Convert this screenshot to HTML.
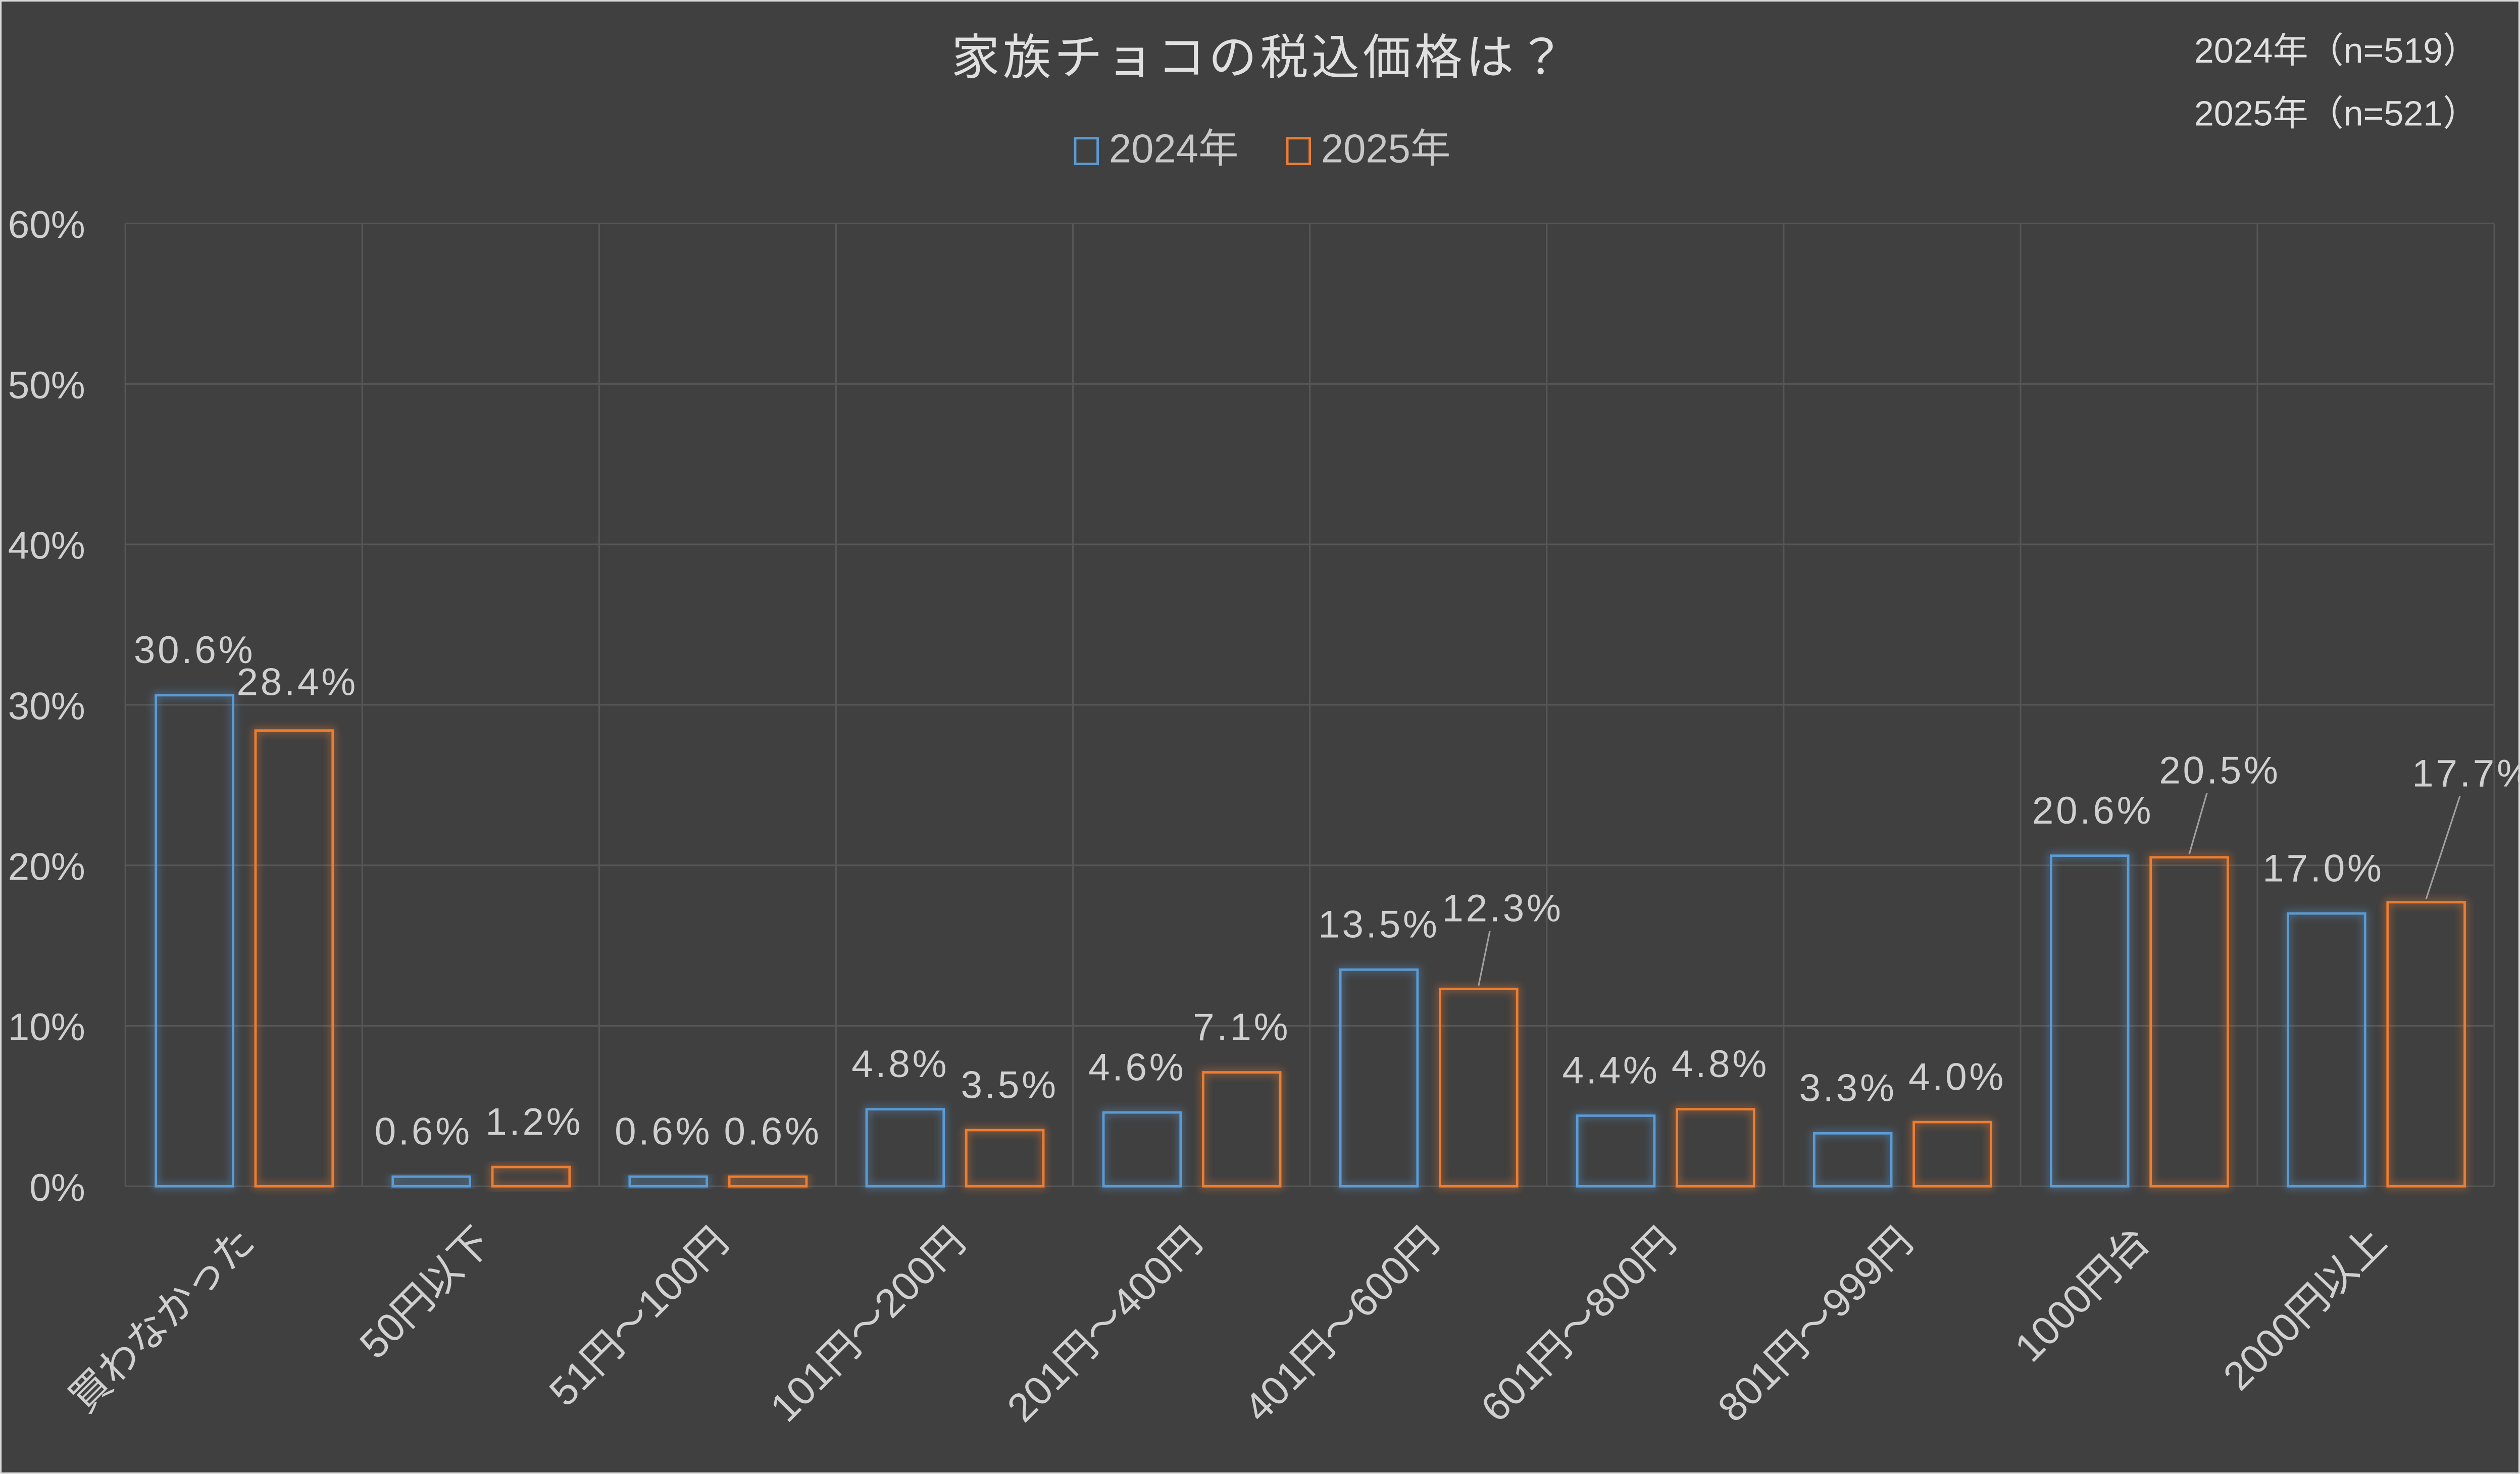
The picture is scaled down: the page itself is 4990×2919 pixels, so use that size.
<!DOCTYPE html>
<html><head><meta charset="utf-8"><style>
html,body{margin:0;padding:0;background:#404040;}
svg{display:block;}
text{font-family:"Liberation Sans","Noto Sans CJK JP",sans-serif;}
</style></head><body>
<svg id="chart" width="4990" height="2919" viewBox="0 0 1568 917" preserveAspectRatio="none" xmlns="http://www.w3.org/2000/svg">
<rect x="0" y="0" width="1568" height="917" fill="#404040" stroke="#d9d9d9" stroke-width="2"/>
<defs>
<filter id="glow" x="-30%" y="-30%" width="160%" height="160%"><feGaussianBlur stdDeviation="2.5"/></filter>
</defs>
<g id="grid"></g>
<g id="bars"></g>
<g id="labels"></g>
<g id="axes"></g>
<text x="784" y="46" text-anchor="middle" font-size="30" fill="#e0e0e0" letter-spacing="2">家族チョコの税込価格は？</text>
<g>
<rect x="669" y="86" width="14" height="16" fill="none" stroke="#5b9bd5" stroke-width="1.5"/>
<text x="690" y="101" font-size="25" fill="#c8c8c8">2024年</text>
<rect x="801" y="86" width="14" height="16" fill="none" stroke="#ed7d31" stroke-width="1.5"/>
<text x="822" y="101" font-size="25" fill="#c8c8c8">2025年</text>
</g>
<text x="1542" y="39" text-anchor="end" font-size="22" fill="#e0e0e0">2024年（n=519）</text>
<text x="1542" y="78" text-anchor="end" font-size="22" fill="#e0e0e0">2025年（n=521）</text>
</svg>
<script>
const categories = ["買わなかった","50円以下","51円～100円","101円～200円","201円～400円","401円～600円","601円～800円","801円～999円","1000円台","2000円以上"];
const values2024 = [30.6,0.6,0.6,4.8,4.6,13.5,4.4,3.3,20.6,17.0];
const values2025 = [28.4,1.2,0.6,3.5,7.1,12.3,4.8,4.0,20.5,17.7];
const yTicks = [0,10,20,30,40,50,60];

const NS="http://www.w3.org/2000/svg";
const X0=78, X1=1552, Y0=738, Ytop=139, YMAX=60;
const bw=(X1-X0)/categories.length;
const y=v=>Y0-(v/YMAX)*(Y0-Ytop);
const xc=i=>X0+i*bw;
// manual label nudges (dx, dy) for labels that Excel moved
const nudge={"2025-0":[2,-2],"2025-1":[2,0],"2024-1":[-5,0],"2024-2":[-3,0],"2025-2":[3,0],"2024-3":[-3,0],"2025-3":[3,0],"2024-4":[-3,0],"2025-4":[0,0],"2024-6":[-3,0],"2025-6":[3,0],"2024-7":[-3,0],"2025-7":[3,0],"2025-5":[15,-22],"2025-8":[19,-26],"2024-8":[2,0],"2024-9":[-2,0],"2025-9":[29,-52]};
function mk(tag,attrs,parent){const e=document.createElementNS(NS,tag);for(const k in attrs)e.setAttribute(k,attrs[k]);parent.appendChild(e);return e;}
const grid=document.getElementById('grid'),bars=document.getElementById('bars'),labels=document.getElementById('labels'),axes=document.getElementById('axes');

yTicks.forEach(t=>{
  const l=mk('line',{x1:X0,x2:X1,y1:y(t),y2:y(t),stroke:'#565656','stroke-width':1},grid);
  
  
  const tx=mk('text',{x:53,y:y(t)+9,'text-anchor':'end','font-size':24,fill:'#d0d0d0'},axes);
  tx.textContent=t+'%';
  
  
});
for(let i=0;i<=categories.length;i++){
  const l=mk('line',{x1:xc(i),x2:xc(i),y1:Ytop,y2:Y0,stroke:'#565656','stroke-width':1},grid);
  
  
}
function bar(i,v,off,color,series){
  const x=xc(i)+off, w=48, top=y(v);
  const g=mk('rect',{x:x,y:top,width:w,height:Y0-top,fill:'none',stroke:color,'stroke-width':3,opacity:0.5,filter:'url(#glow)'},bars);
  
  
  const r=mk('rect',{x:x,y:top,width:w,height:Y0-top,fill:'none',stroke:color,'stroke-width':1.5},bars);
  
  
  const n=nudge[series+'-'+i]||[0,0];
  const lx=x+w/2+n[0], ly=top-20+n[1];
  if(n[1]<-10){
    const ld=mk('line',{x1:x+w/2,y1:top-2,x2:lx-8,y2:ly+6,stroke:'#a0a0a0','stroke-width':1},labels);
    
    
  }
  const t=mk('text',{x:lx,y:ly,'text-anchor':'middle','font-size':24,fill:'#d0d0d0','letter-spacing':1.5},labels);
  t.textContent=v.toFixed(1)+'%';
  
  
}
categories.forEach((c,i)=>{
  bar(i,values2024[i],19,'#5b9bd5','2024');
  bar(i,values2025[i],81,'#ed7d31','2025');
  const cx=xc(i)+bw/2+8;
  const t=mk('text',{x:cx,y:774,'text-anchor':'end','font-size':25,fill:'#d0d0d0',transform:'rotate(-45 '+cx+' 774)'},axes);
  t.textContent=c;
  
  
});
</script>
</body></html>
